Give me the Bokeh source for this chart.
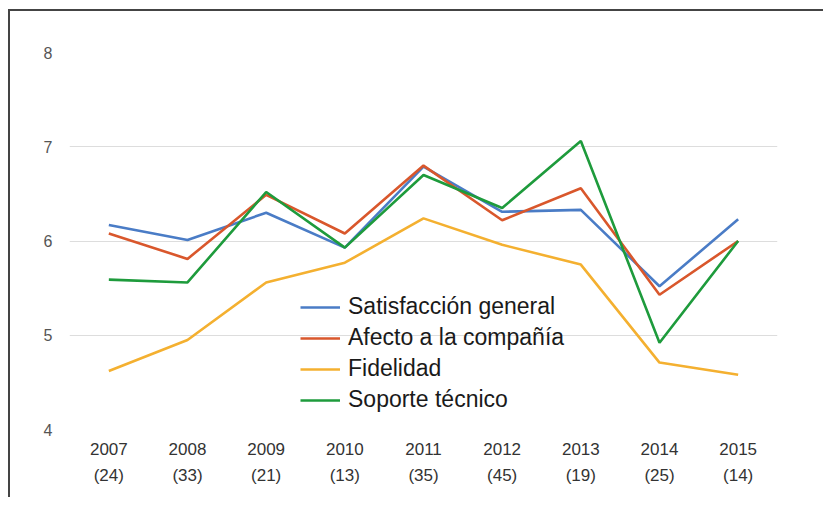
from bokeh.plotting import figure
from bokeh.models import Legend, LegendItem, FixedTicker, CategoricalAxis, FactorRange
from bokeh.embed import file_html
from bokeh.resources import INLINE

years = ["2007", "2008", "2009", "2010", "2011", "2012", "2013", "2014", "2015"]
counts = ["24", "33", "21", "13", "35", "45", "19", "25", "14"]

satisfaccion = [6.17, 6.01, 6.30, 5.93, 6.79, 6.31, 6.33, 5.52, 6.23]
afecto = [6.08, 5.81, 6.49, 6.08, 6.80, 6.22, 6.56, 5.43, 6.00]
fidelidad = [4.62, 4.95, 5.56, 5.77, 6.24, 5.96, 5.75, 4.71, 4.58]
soporte = [5.59, 5.56, 6.52, 5.93, 6.70, 6.35, 7.06, 4.92, 6.00]

series_names = ["Satisfacción general", "Afecto a la compañía", "Fidelidad", "Soporte técnico"]
series_values = [satisfaccion, afecto, fidelidad, soporte]
series_colors = ["#4A7CC6", "#D9572C", "#F4B030", "#1E9B3C"]

y_ticks = [4, 5, 6, 7, 8]

FONT = "Liberation Sans"

p = figure(
    x_range=years, y_range=(4, 8),
    width=815, height=488,
    output_backend="svg", toolbar_location=None,
    min_border_left=59, min_border_right=48,
    min_border_top=41, min_border_bottom=70,
)
p.styles = {
    "border-top": "2px solid #444444",
    "border-left": "2px solid #444444",
    "margin-left": "8px",
    "margin-top": "9px",
}
p.outline_line_color = None
p.background_fill_color = "white"
p.border_fill_color = "white"

p.xgrid.grid_line_color = None
p.ygrid.grid_line_color = "#DDDDDD"
p.ygrid.grid_line_width = 1.2

p.yaxis.ticker = FixedTicker(ticks=y_ticks)

p.extra_x_ranges = {"counts": FactorRange(factors=[f"({c})" for c in counts])}
count_axis = CategoricalAxis(x_range_name="counts")
p.add_layout(count_axis, "below")

year_axis = p.below[0]

for ax in (year_axis, p.yaxis[0], count_axis):
    ax.axis_line_color = None
    ax.major_tick_line_color = None
    ax.minor_tick_line_color = None
    ax.major_tick_out = 0
    ax.major_tick_in = 0
    ax.major_label_text_font = FONT

p.yaxis.major_label_text_font_size = "16px"
p.yaxis.major_label_text_color = "#555555"
p.yaxis.major_label_standoff = 17

year_axis.major_label_text_font_size = "17px"
year_axis.major_label_text_color = "#333333"
year_axis.major_label_standoff = 13

count_axis.major_label_text_font_size = "17px"
count_axis.major_label_text_color = "#333333"
count_axis.major_label_standoff = 8

items = []
for name, vals, col in zip(series_names, series_values, series_colors):
    r = p.line(x=years, y=vals, line_color=col, line_width=2.6)
    items.append(LegendItem(label=name, renderers=[r]))

legend = Legend(
    items=items, location=(231, 16),
    label_text_font=FONT, label_text_font_size="23px", label_text_color="#1A1A1A",
    glyph_width=40, glyph_height=20, label_standoff=8, spacing=4,
    padding=0, margin=0,
    border_line_color=None, background_fill_alpha=0,
)
p.add_layout(legend, "center")

open("out.html", "w").write(file_html(p, INLINE))
